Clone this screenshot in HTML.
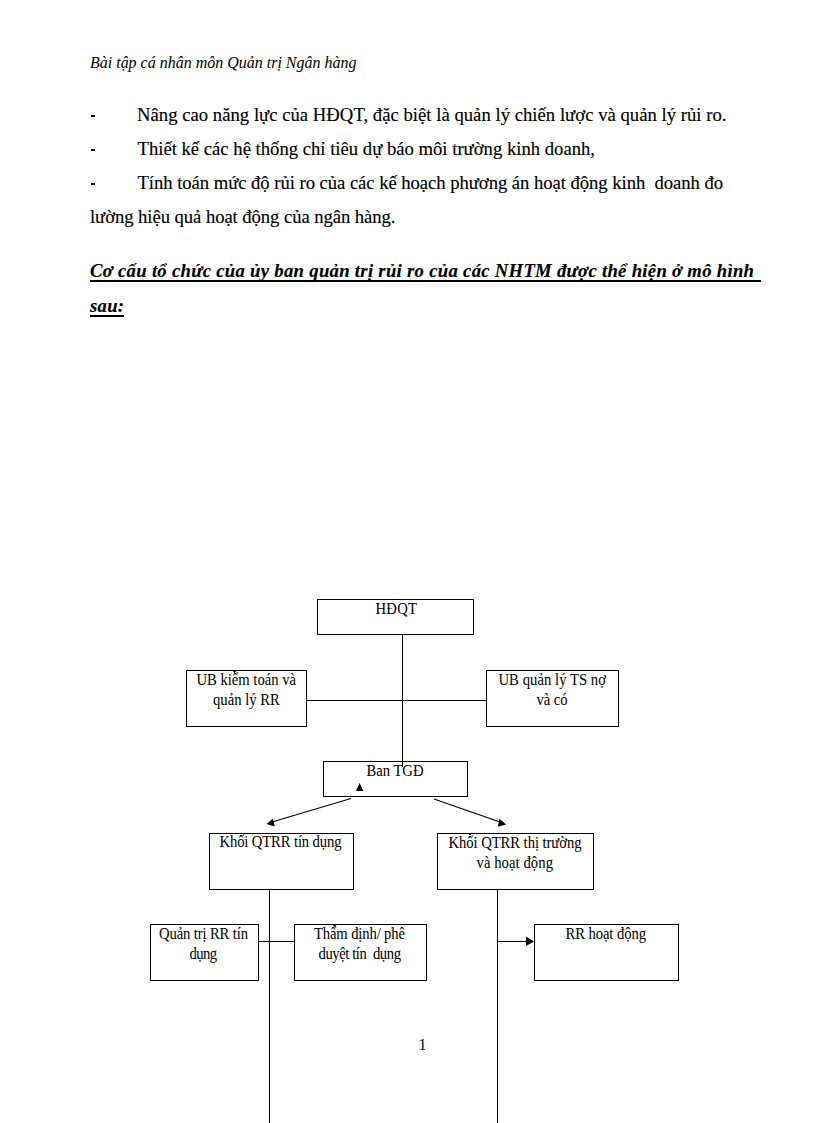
<!DOCTYPE html><html><head><meta charset="utf-8"><title>Document</title><style>
html,body{margin:0;padding:0;background:#fff;width:816px;height:1123px;overflow:hidden}
svg{display:block}
text{font-family:"Liberation Serif",serif;fill:#000}
.i{font-style:italic}.bi{font-style:italic;font-weight:bold}.b{stroke:#000;stroke-width:0.15px}
</style></head><body>
<svg width="816" height="1123" viewBox="0 0 816 1123">
<rect x="0" y="0" width="816" height="1123" fill="#fff"/>
<rect x="91" y="115" width="4" height="2" fill="#000"/><rect x="91" y="149" width="4" height="2" fill="#000"/><rect x="91" y="183" width="4" height="2" fill="#000"/>
<rect x="90" y="280" width="671" height="2" fill="#000"/>
<rect x="90" y="315" width="34" height="2" fill="#000"/>
<g fill="#000" shape-rendering="crispEdges">
<rect x="317" y="599" width="157" height="1"/>
<rect x="317" y="634" width="157" height="1"/>
<rect x="317" y="599" width="1" height="36"/>
<rect x="473" y="599" width="1" height="36"/>
<rect x="186" y="670" width="121" height="1"/>
<rect x="186" y="726" width="121" height="1"/>
<rect x="186" y="670" width="1" height="57"/>
<rect x="306" y="670" width="1" height="57"/>
<rect x="486" y="670" width="133" height="1"/>
<rect x="486" y="726" width="133" height="1"/>
<rect x="486" y="670" width="1" height="57"/>
<rect x="618" y="670" width="1" height="57"/>
<rect x="323" y="761" width="145" height="1"/>
<rect x="323" y="796" width="145" height="1"/>
<rect x="323" y="761" width="1" height="36"/>
<rect x="467" y="761" width="1" height="36"/>
<rect x="209" y="833" width="145" height="1"/>
<rect x="209" y="889" width="145" height="1"/>
<rect x="209" y="833" width="1" height="57"/>
<rect x="353" y="833" width="1" height="57"/>
<rect x="437" y="833" width="157" height="1"/>
<rect x="437" y="889" width="157" height="1"/>
<rect x="437" y="833" width="1" height="57"/>
<rect x="593" y="833" width="1" height="57"/>
<rect x="150" y="924" width="109" height="1"/>
<rect x="150" y="980" width="109" height="1"/>
<rect x="150" y="924" width="1" height="57"/>
<rect x="258" y="924" width="1" height="57"/>
<rect x="294" y="924" width="133" height="1"/>
<rect x="294" y="980" width="133" height="1"/>
<rect x="294" y="924" width="1" height="57"/>
<rect x="426" y="924" width="1" height="57"/>
<rect x="534" y="924" width="145" height="1"/>
<rect x="534" y="980" width="145" height="1"/>
<rect x="534" y="924" width="1" height="57"/>
<rect x="678" y="924" width="1" height="57"/>
<rect x="307" y="700" width="179" height="1"/>
<rect x="259" y="941" width="35" height="1"/>
<rect x="498" y="941" width="30" height="1"/>
<rect x="402" y="635" width="1" height="132"/>
<rect x="269" y="890" width="1" height="233"/>
<rect x="497" y="890" width="1" height="233"/>
</g>
<line x1="351" y1="798.5" x2="272" y2="822" stroke="#000" stroke-width="1.1"/>
<line x1="434" y1="799" x2="500" y2="822" stroke="#000" stroke-width="1.1"/>
<polygon points="266.5,824 272.7,818.8 274.8,826.6" fill="#000"/>
<polygon points="506,824.5 499.5,818.7 497.8,826.7" fill="#000"/>
<polygon points="534,941.5 526,936.6 526,946" fill="#000"/>
<polygon points="359.6,783 356,791 363.4,791" fill="#000"/>
<polygon points="233,671 236.2,671 234.6,673.2" fill="#000"/>
<polygon points="333,925 336.2,925 334.6,927.2" fill="#000"/>
<polygon points="468.8,834 471.2,834 470,835.6" fill="#000"/>
<text transform="translate(90 68) scale(1 1.08)" x="0" y="0" font-size="16" class="i" textLength="266.5" lengthAdjust="spacing" xml:space="preserve">Bài tập cá nhân môn Quản trị Ngân hàng</text>
<text x="137" y="121" font-size="18.67" class="b" textLength="589.5" lengthAdjust="spacing" xml:space="preserve">Nâng cao năng lực của HĐQT, đặc biệt là quản lý chiến lược và quản lý rủi ro.</text>
<text x="137.5" y="155" font-size="18.67" class="b" textLength="457.5" lengthAdjust="spacing" xml:space="preserve">Thiết kế các hệ thống chỉ tiêu dự báo môi trường kinh doanh,</text>
<text x="137.5" y="189" font-size="18.67" class="b" textLength="585.5" lengthAdjust="spacing" xml:space="preserve">Tính toán mức độ rủi ro của các kế hoạch phương án hoạt động kinh  doanh đo</text>
<text x="90" y="223" font-size="18.67" class="b" textLength="305.5" lengthAdjust="spacing" xml:space="preserve">lường hiệu quả hoạt động của ngân hàng.</text>
<text x="90" y="277" font-size="18.67" class="bi b" textLength="664" lengthAdjust="spacing" xml:space="preserve">Cơ cấu tổ chức của ủy ban quản trị rủi ro của các NHTM được thể hiện ở mô hình</text>
<text x="90" y="311.5" font-size="18.67" class="bi b" textLength="34" lengthAdjust="spacing" xml:space="preserve">sau:</text>
<text transform="translate(418.5 1050) scale(1 1.08)" x="0" y="0" font-size="16" xml:space="preserve">1</text>
<text transform="translate(375.5 613.6) scale(1 1.09)" x="0" y="0" font-size="14.67" textLength="41.5" lengthAdjust="spacing" xml:space="preserve">HĐQT</text>
<text transform="translate(196.5 684.5) scale(1 1.09)" x="0" y="0" font-size="14.67" textLength="99.5" lengthAdjust="spacing" xml:space="preserve">UB kiểm toán và</text>
<text transform="translate(213 705) scale(1 1.09)" x="0" y="0" font-size="14.67" xml:space="preserve">quản lý RR</text>
<text transform="translate(498.5 684.5) scale(1 1.09)" x="0" y="0" font-size="14.67" textLength="107.5" lengthAdjust="spacing" xml:space="preserve">UB quản lý TS nợ</text>
<text transform="translate(536.5 705) scale(1 1.09)" x="0" y="0" font-size="14.67" textLength="31" lengthAdjust="spacing" xml:space="preserve">và có</text>
<text transform="translate(366.5 776) scale(1 1.09)" x="0" y="0" font-size="14.67" textLength="57" lengthAdjust="spacing" xml:space="preserve">Ban TGĐ</text>
<text transform="translate(219.5 847.2) scale(1 1.09)" x="0" y="0" font-size="14.67" textLength="122" lengthAdjust="spacing" xml:space="preserve">Khối QTRR tín dụng</text>
<text transform="translate(448.5 847.5) scale(1 1.09)" x="0" y="0" font-size="14.67" textLength="133" lengthAdjust="spacing" xml:space="preserve">Khối QTRR thị trường</text>
<text transform="translate(476.5 867.6) scale(1 1.09)" x="0" y="0" font-size="14.67" textLength="76.5" lengthAdjust="spacing" xml:space="preserve">và hoạt động</text>
<text transform="translate(159 938.9) scale(1 1.09)" x="0" y="0" font-size="14.67" textLength="89" lengthAdjust="spacing" xml:space="preserve">Quản trị RR tín</text>
<text transform="translate(189.5 959) scale(1 1.09)" x="0" y="0" font-size="14.67" textLength="27.5" lengthAdjust="spacing" xml:space="preserve">dụng</text>
<text transform="translate(314 938.9) scale(1 1.09)" x="0" y="0" font-size="14.67" textLength="91" lengthAdjust="spacing" xml:space="preserve">Thẩm định/ phê</text>
<text transform="translate(318.5 959) scale(1 1.09)" x="0" y="0" font-size="14.67" textLength="82.5" lengthAdjust="spacing" xml:space="preserve">duyệt tín  dụng</text>
<text transform="translate(565.5 938.8) scale(1 1.09)" x="0" y="0" font-size="14.67" textLength="80.5" lengthAdjust="spacing" xml:space="preserve">RR hoạt động</text>
</svg></body></html>
